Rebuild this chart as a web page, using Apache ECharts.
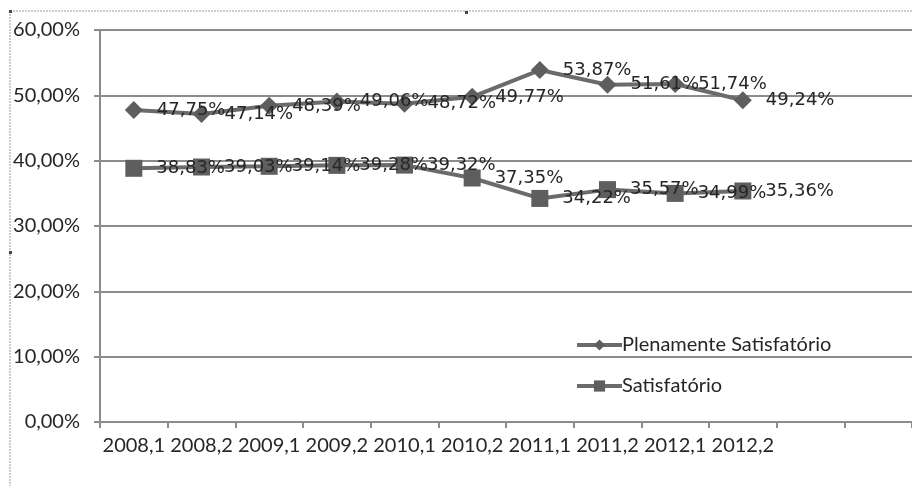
<!DOCTYPE html>
<html>
<head>
<meta charset="utf-8">
<script src="https://cdn.jsdelivr.net/npm/echarts@6/dist/echarts.min.js"></script>
<style>html,body{margin:0;padding:0;background:#fff}#c{width:912px;height:486px}</style>
</head>
<body>
<div id="c"></div>
<script>
var categories = ['2008,1','2008,2','2009,1','2009,2','2010,1','2010,2','2011,1','2011,2','2012,1','2012,2','',''];
var plenamente = [47.75, 47.14, 48.39, 49.06, 48.72, 49.77, 53.87, 51.61, 51.74, 49.24];
var satisfatorio = [38.83, 39.03, 39.14, 39.28, 39.32, 37.35, 34.22, 35.57, 34.99, 35.36];
var yTicks = [0, 10, 20, 30, 40, 50, 60];

function pct(v){ return v.toFixed(2).replace('.', ',') + '%'; }

var chart = echarts.init(document.getElementById('c'), null, {renderer:'canvas'});
var axisFont = 'Lato';
var labelStyle = {
  show: true, position: 'right', distance: 14,
  fontFamily: 'DejaVu Sans', fontSize: 18, color: '#262626',
  formatter: function(p){ return pct(p.value); }
};
chart.setOption({
  animation: false,
  backgroundColor: '#fff',
  grid: { left: 100, top: 30, bottom: 64, right: -3, containLabel: false },
  legend: {
    orient: 'vertical', left: 570, top: 330,
    itemWidth: 45, itemHeight: 14, itemGap: 21,
    lineStyle: { width: 4, color: '#6b6b6b' },
    textStyle: { fontFamily: axisFont, fontSize: 20, color: '#262626', padding: [0,0,0,-5] },
    data: ['Plenamente Satisfatório', 'Satisfatório']
  },
  xAxis: {
    type: 'category', data: categories, boundaryGap: true,
    axisLine: { lineStyle: { color: '#8c8c8c', width: 2 } },
    axisTick: { show: true, length: 6, lineStyle: { color: '#8c8c8c', width: 2 } },
    axisLabel: { interval: 0, margin: 14, fontFamily: axisFont, fontSize: 20, color: '#262626' },
    splitLine: { show: false }
  },
  yAxis: {
    type: 'value', min: yTicks[0], max: yTicks[yTicks.length-1], interval: 10,
    axisLine: { show: true, lineStyle: { color: '#8c8c8c', width: 2 } },
    axisTick: { show: true, length: 6, lineStyle: { color: '#8c8c8c', width: 2 } },
    axisLabel: { margin: 20, fontFamily: axisFont, fontSize: 20, color: '#262626', formatter: pct },
    splitLine: { show: true, lineStyle: { color: '#8c8c8c', width: 2 } }
  },
  series: [
    {
      name: 'Plenamente Satisfatório', type: 'line', data: plenamente,
      symbol: 'diamond', symbolSize: 18,
      lineStyle: { color: '#6b6b6b', width: 4 },
      itemStyle: { color: '#5e5e5e' },
      label: labelStyle
    },
    {
      name: 'Satisfatório', type: 'line', data: satisfatorio,
      symbol: 'rect', symbolSize: 17,
      lineStyle: { color: '#6b6b6b', width: 4 },
      itemStyle: { color: '#5e5e5e' },
      label: labelStyle
    }
  ],
  graphic: [
    { type: 'line', shape: { x1: 10, y1: 11, x2: 912, y2: 11 }, style: { stroke: '#9a9a9a', lineWidth: 1, lineDash: [2, 1] } },
    { type: 'line', shape: { x1: 10, y1: 11, x2: 10, y2: 486 }, style: { stroke: '#9a9a9a', lineWidth: 1, lineDash: [2, 1] } },
    { type: 'rect', shape: { x: 9, y: 10, width: 3, height: 3 }, style: { fill: '#444' } },
    { type: 'rect', shape: { x: 465, y: 11, width: 3, height: 3 }, style: { fill: '#444' } },
    { type: 'rect', shape: { x: 9, y: 251, width: 3, height: 3 }, style: { fill: '#444' } }
  ]
});
</script>
</body>
</html>
